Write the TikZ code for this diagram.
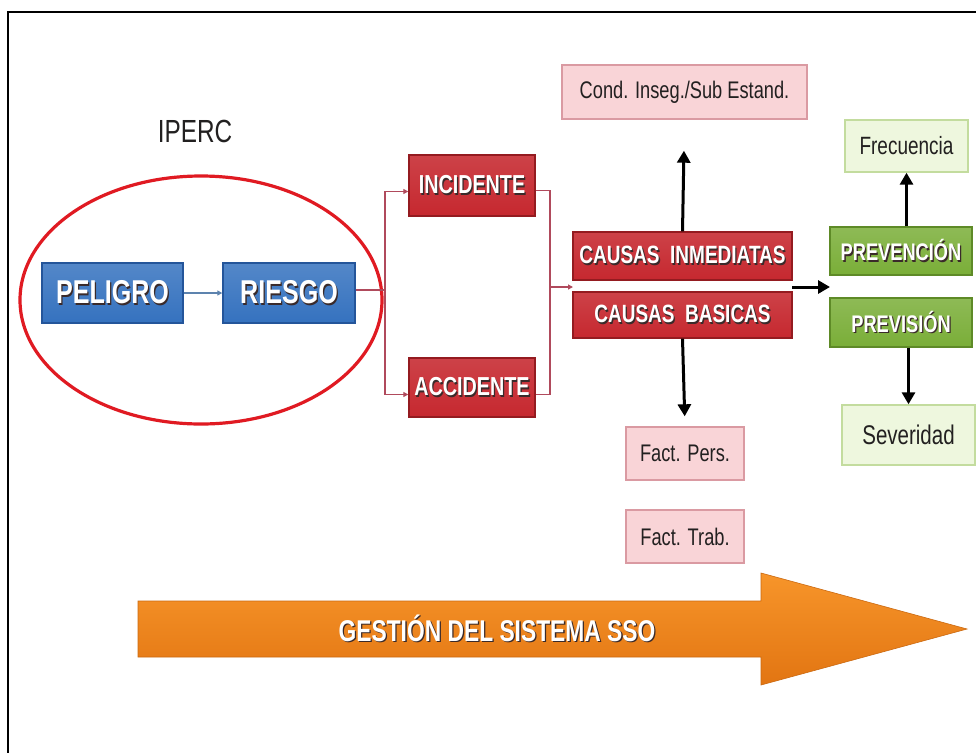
\documentclass[tikz,border=0pt]{standalone}
\usepackage{fontspec}
\setmainfont{Liberation Sans}[FakeStretch=0.76]
\usetikzlibrary{arrows.meta,shapes.geometric,calc}

\definecolor{boxblue}{HTML}{3572BF}
\definecolor{boxblueedge}{HTML}{24559A}
\definecolor{boxred}{HTML}{C6282F}
\definecolor{boxrededge}{HTML}{941B20}
\definecolor{boxgreen}{HTML}{7AAE38}
\definecolor{boxgreenedge}{HTML}{5E8A27}
\definecolor{softpink}{HTML}{F9D4D7}
\definecolor{softpinkedge}{HTML}{DA9AA2}
\definecolor{softgreen}{HTML}{EEF7DE}
\definecolor{softgreenedge}{HTML}{C3DC9E}
\definecolor{ringred}{HTML}{E01A22}
\definecolor{linkred}{HTML}{B04A5C}
\definecolor{linkblue}{HTML}{5D83AE}
\definecolor{bandtop}{HTML}{F7952A}
\definecolor{bandbottom}{HTML}{E27512}
\definecolor{txtshadow}{HTML}{3A2A2A}
\definecolor{darktext}{HTML}{222020}

% white lettering with a small dark drop shadow
\newcommand\shadowtext[1]{\rlap{\kern1.3pt\raisebox{-1.3pt}{\textcolor{txtshadow}{#1}}}#1}
\newcommand\fs[1]{\fontsize{#1}{#1}\selectfont}

\begin{document}
\begin{tikzpicture}[x=1pt,y=-1pt,
  solidbox/.style={rectangle, inner sep=0pt, text=white, line width=1.4pt},
  bluebox/.style={solidbox, draw=boxblueedge, top color=boxblue!85!white, bottom color=boxblue, font=\fs{33}\bfseries},
  redbox/.style={solidbox, draw=boxrededge, top color=boxred!88!white, bottom color=boxred, font=\fs{26}\bfseries},
  causebox/.style={redbox, font=\fs{25}\bfseries},
  greenbox/.style={solidbox, draw=boxgreenedge, top color=boxgreen!85!white, bottom color=boxgreen, font=\fs{24}\bfseries},
  pinkbox/.style={rectangle, inner sep=0pt, fill=softpink, draw=softpinkedge, line width=1.4pt, text=darktext, font=\fs{24}},
  limebox/.style={rectangle, inner sep=0pt, fill=softgreen, draw=softgreenedge, line width=1.4pt, text=darktext, font=\fs{25}},
  thinlink/.style={linkred, line width=1.2pt},
  thinarrow/.style={thinlink, -{Triangle[length=5pt,width=5pt]}},
  boldarrow/.style={black, line width=3pt, -{Triangle[length=12pt,width=13pt]}}
]
\useasboundingbox (0,0) rectangle (976,753);
\fill[white] (0,0) rectangle (976,753);

% frame (top and left edges)
\draw[black, line width=2pt] (976,12) -- (8,12) -- (8,753);

% title and hazard zone
\node[text=darktext, font=\fs{32}] (iperc) at (195,131) {IPERC};
\node[ellipse, draw=ringred, line width=3.2pt, inner sep=0pt,
      minimum width=362pt, minimum height=248pt] (zone) at (201,300) {};

\node[bluebox, minimum width=141pt, minimum height=60pt] (peligro) at (112.5,293) {\shadowtext{PELIGRO}};
\node[bluebox, minimum width=132pt, minimum height=60pt] (riesgo) at (289,293) {\shadowtext{RIESGO}};
\draw[linkblue, line width=1.2pt, -{Triangle[length=5pt,width=5pt]}] (peligro.east) -- (riesgo.west);

% events
\node[redbox, minimum width=126pt, minimum height=61pt] (incidente) at (472,185.5) {\shadowtext{INCIDENTE}};
\node[redbox, minimum width=126pt, minimum height=59pt] (accidente) at (472,387.5) {\shadowtext{ACCIDENTE}};

% causes
\node[causebox, minimum width=219pt, minimum height=48pt] (inmediatas) at (682.5,256) {\shadowtext{CAUSAS\ \ INMEDIATAS}};
\node[causebox, minimum width=219pt, minimum height=46pt] (basicas) at (682.5,315) {\shadowtext{CAUSAS\ \ BASICAS}};
\node[pinkbox, minimum width=245pt, minimum height=54pt] (condicion) at (684.5,92) {Cond. Inseg./Sub Estand.};
\node[pinkbox, minimum width=118pt, minimum height=53pt] (factpers) at (685,453.5) {Fact. Pers.};
\node[pinkbox, minimum width=118pt, minimum height=53pt] (facttrab) at (685,536.5) {Fact. Trab.};

% control
\node[greenbox, minimum width=142pt, minimum height=48pt] (prevencion) at (901,251) {\shadowtext{PREVENCIÓN}};
\node[greenbox, minimum width=142pt, minimum height=49pt] (prevision) at (901,322.5) {\shadowtext{PREVISIÓN}};
\node[limebox, minimum width=123pt, minimum height=52pt] (frecuencia) at (906.5,146) {Frecuencia};
\node[limebox, minimum width=133pt, minimum height=60pt, font=\fs{27}] (severidad) at (908.5,435) {Severidad};

% thin branching links
\coordinate (split) at (385,290);
\coordinate (merge) at (550,287);
\coordinate (causegap) at (573,287);
\draw[thinlink] (riesgo.east |- split) -- (split);
\draw[thinarrow] (split) |- ([yshift=-6pt]incidente.west);
\draw[thinarrow] (split) |- ([yshift=-7pt]accidente.west);
\draw[thinlink] ([yshift=-5pt]incidente.east) -| (merge);
\draw[thinlink] ([yshift=-7pt]accidente.east) -| (merge);
\draw[thinarrow] (merge) -- (causegap);

% heavy arrows
\coordinate (causeout) at (792,287);
\coordinate (controlin) at (830,287);
\draw[boldarrow, shorten >=31pt] (inmediatas.north) -- (condicion.south);
\draw[boldarrow, shorten >=10pt] (basicas.south) -- (factpers.north);
\draw[boldarrow] (causeout) -- (controlin);
\draw[boldarrow] (frecuencia.south |- prevencion.north) -- (frecuencia.south);
\draw[boldarrow] (severidad.north |- prevision.south) -- (severidad.north);

% management band
\shade[top color=bandtop, bottom color=bandbottom, draw=bandbottom!90!black, line width=0.6pt]
  (138,601) -- (761,601) -- (761,573) -- (967,629) -- (761,685) -- (761,657) -- (138,657) -- cycle;
\node[text=white, font=\fs{30}\bfseries] (gestion) at (497,629) {\shadowtext{GESTIÓN DEL SISTEMA SSO}};
\end{tikzpicture}
\end{document}
